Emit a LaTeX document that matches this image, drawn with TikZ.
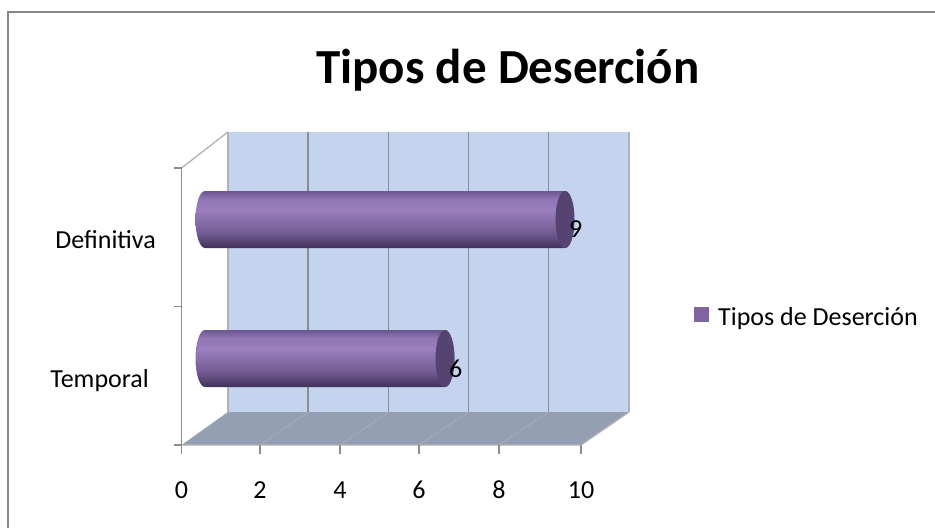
\documentclass[tikz,border=0pt]{standalone}
\usepackage{fontspec}
\setmainfont{Carlito}
\usepackage{tikz}

\definecolor{wallblue}{HTML}{C4D4EE}
\definecolor{floorgray}{HTML}{959FB3}
\definecolor{floorline}{HTML}{B0B6C3}
\definecolor{gridgray}{HTML}{8C8C8C}
\definecolor{edgegray}{HTML}{B2B2B2}
\definecolor{framegray}{HTML}{878787}
\definecolor{bartop}{HTML}{6A5690}
\definecolor{barlight}{HTML}{9A7EBE}
\definecolor{barbottom}{HTML}{3F3059}
\definecolor{barcap}{HTML}{554371}
\definecolor{keypurple}{HTML}{8064A2}

\pgfdeclareverticalshading{barshade}{100bp}{color(0bp)=(barbottom); color(25bp)=(barbottom);
  color(38bp)=(barlight!55!barbottom); color(58bp)=(barlight); color(68bp)=(barlight!80!bartop);
  color(75bp)=(bartop); color(100bp)=(bartop)}

\begin{document}
\begin{tikzpicture}[x=1pt,y=-1pt,
    axislabel/.style={font=\fontsize{26}{31}\selectfont,inner sep=0pt},
    gridline/.style={gridgray,line width=1.5pt},
    edgeline/.style={edgegray,line width=1.3pt},
    barbody/.style={shading=barshade}]
        \useasboundingbox (0,0) rectangle (935,528);
        % frame
        \draw[framegray,line width=1.5pt] (8,528) -- (8,12) -- (935,12);
        \node[anchor=base,inner sep=0pt,font=\bfseries\fontsize{49}{58}\selectfont] (title) at (508,83) {Tipos de Deserción};
        % walls
        \fill[wallblue] (228,132) rectangle (629,412);
        \fill[floorgray] (181.5,445) -- (581,445) -- (629,412) -- (228,412) -- cycle;
        \draw[floorline] (260,445) -- (308,412);
        \draw[floorline] (340,445) -- (388.5,412);
        \draw[floorline] (419,445) -- (468.5,412);
        \draw[floorline] (499,445) -- (548.5,412);
        \draw[edgeline] (228,132) -- (228,412);
        \draw[gridline] (308,132) -- (308,412);
        \draw[gridline] (388.5,132) -- (388.5,412);
        \draw[gridline] (468.5,132) -- (468.5,412);
        \draw[gridline] (548.5,132) -- (548.5,412);
        \draw[edgeline] (629,132) -- (629,412);
        \draw[edgeline] (181.5,168) -- (228,132);
        \draw[edgeline] (181.5,445) -- (581,445) -- (629,412);
        % axes
        \draw[gridline] (181.5,168) -- (181.5,445);
        \draw[gridline] (174,168) -- (181.5,168);
        \draw[gridline] (174,306.5) -- (181.5,306.5);
        \draw[gridline] (174,445) -- (181.5,445);
        \draw[gridline] (181.5,445) -- (181.5,454);
        \draw[gridline] (260,445) -- (260,454);
        \draw[gridline] (340,445) -- (340,454);
        \draw[gridline] (419,445) -- (419,454);
        \draw[gridline] (499,445) -- (499,454);
        \draw[gridline] (581,445) -- (581,454);
        % bars
        \shade[barbody] (205,191) -- (565,191) arc[start angle=-90,end angle=90,x radius=9.5,y radius=28.5]
          -- (205,248) arc[start angle=90,end angle=270,x radius=9.5,y radius=28.5] -- cycle;
        \fill[barcap] (565,219.5) ellipse [x radius=9.5,y radius=28.5];
        \shade[barbody] (205,330) -- (445,330) arc[start angle=-90,end angle=90,x radius=9.5,y radius=28.5]
          -- (205,387) arc[start angle=90,end angle=270,x radius=9.5,y radius=28.5] -- cycle;
        \fill[barcap] (445,358.5) ellipse [x radius=9.5,y radius=28.5];
        \node[axislabel,anchor=base west] (nine) at (569,237) {9};
        \node[axislabel,anchor=base west] (six) at (449,377) {6};
        % axis labels
        \node[axislabel,anchor=base east] (definitiva) at (156,248) {Definitiva};
        \node[axislabel,anchor=base east] (temporal) at (149,387) {Temporal};
        \node[axislabel,anchor=base] (x0) at (181.5,498) {0};
        \node[axislabel,anchor=base] (x2) at (260,498) {2};
        \node[axislabel,anchor=base] (x4) at (340,498) {4};
        \node[axislabel,anchor=base] (x6) at (419,498) {6};
        \node[axislabel,anchor=base] (x8) at (499,498) {8};
        \node[axislabel,anchor=base] (x10) at (581,498) {10};
        % legend
        \node[fill=keypurple,minimum size=15pt,inner sep=0pt] (key) at (701.5,314.5) {};
        \node[axislabel,anchor=base west] (keytext) at (718,325) {Tipos de Deserción};
      \end{tikzpicture}
\end{document}
